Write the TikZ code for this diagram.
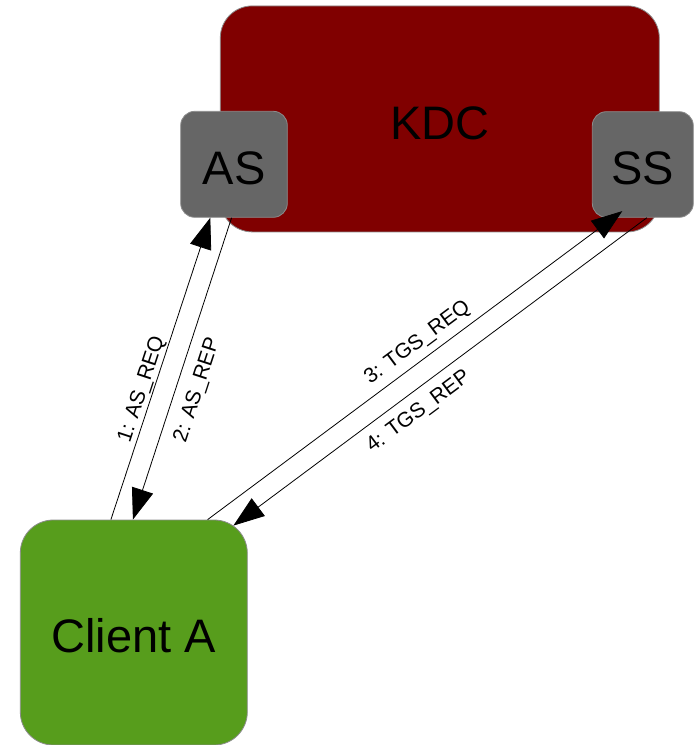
\documentclass[tikz,border=0pt]{standalone}
\usepackage{fontspec}
\setmainfont{Liberation Sans}
\usepackage{tikz}
\usetikzlibrary{arrows.meta}
\definecolor{kdcred}{HTML}{800000}
\definecolor{srvgray}{HTML}{666666}
\definecolor{clientgreen}{HTML}{579D1C}
\definecolor{rim}{HTML}{8C8C8C}

\begin{document}
\begin{tikzpicture}[x=1pt, y=-1pt,
	box/.style={draw=rim, line width=0.8pt, font=\fontsize{47}{56}\selectfont, text height=40.7pt, text depth=0pt, inner sep=0pt},
	msg/.style={-{Triangle[length=31pt,width=22pt]}, line width=0.8pt},
	lbl/.style={font=\fontsize{21}{25}\selectfont, sloped}]
\useasboundingbox (0,0) rectangle (694,745);
\node[box, fill=kdcred, rounded corners=32pt, minimum width=439pt, minimum height=226pt] (kdc) at (439.8,118.9) {KDC};
\node[box, fill=srvgray, rounded corners=14pt, minimum width=106.6pt, minimum height=106pt] (as) at (234,164.3) {AS};
\node[box, fill=srvgray, rounded corners=14pt, minimum width=101pt, minimum height=105.6pt] (ss) at (642.8,164.5) {SS};
\node[box, fill=clientgreen, rounded corners=33pt, minimum width=227pt, minimum height=225pt] (client) at (133.8,632.5) {Client A};
% messages
\path[msg]
([xshift=91pt]client.north west) edge node [lbl, above, pos=0.42, inner sep=1.3pt] {1: AS\_REQ} ([xshift=30pt]as.south west)
([xshift=51.3pt]as.south west) edge node [lbl, below, pos=0.55, inner sep=11.4pt] {2: AS\_REP} ([xshift=113pt]client.north west)
([xshift=187.7pt]client.north west) edge node [lbl, above, pos=0.53, inner sep=6.5pt] {3: TGS\_REQ} ([xshift=30.4pt,yshift=6.6pt]ss.south west)
([xshift=55pt]ss.south west) edge node [lbl, below, pos=0.58, inner sep=9.7pt] {4: TGS\_REP} ([xshift=-14.3pt,yshift=-6pt]client.north east)
;
\end{tikzpicture}
\end{document}
